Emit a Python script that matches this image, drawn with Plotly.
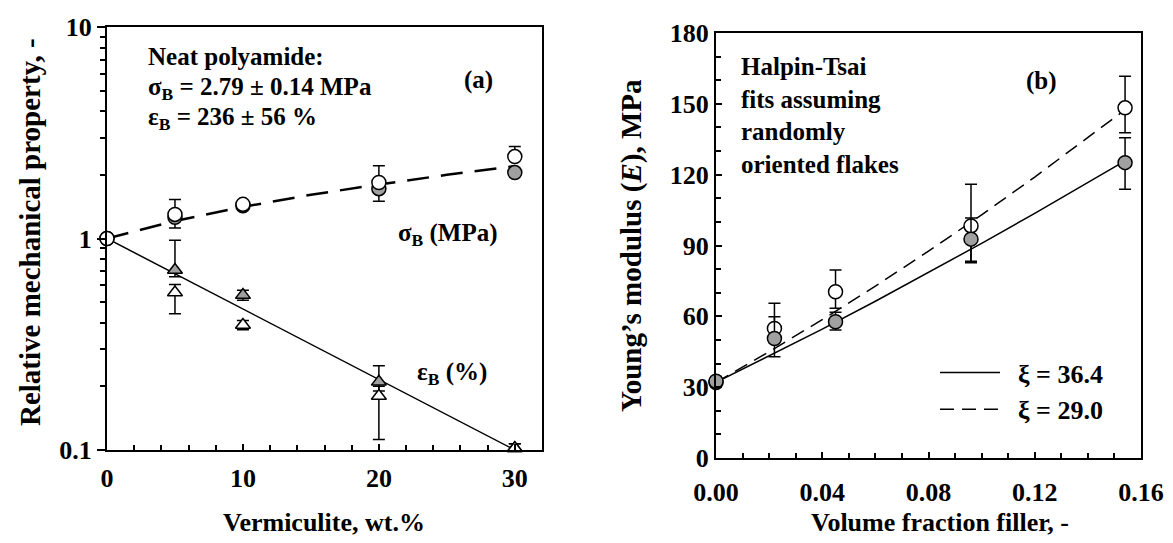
import plotly.graph_objects as go

# ---------------- data: panel (a) ----------------
wt = [0, 5, 10, 20, 30]
sigma_open = [1.0, 1.30, 1.45, 1.84, 2.44]
sigma_open_plus = [0.0, 0.23, 0.03, 0.37, 0.28]
sigma_open_minus = [0.0, 0.05, 0.03, 0.05, 0.05]
sigma_gray = [1.0, 1.26, 1.43, 1.72, 2.05]
sigma_gray_plus = [0.0, 0.10, 0.03, 0.10, 0.05]
sigma_gray_minus = [0.0, 0.14, 0.03, 0.22, 0.05]

wt_eps = [5, 10, 20, 30]
eps_gray = [0.71, 0.54, 0.21, 0.102]
eps_gray_plus = [0.27, 0.03, 0.04, 0.005]
eps_gray_minus = [0.05, 0.03, 0.02, 0.005]
eps_open = [0.556, 0.39, 0.18, 0.102]
eps_open_plus = [0.05, 0.02, 0.02, 0.005]
eps_open_minus = [0.115, 0.02, 0.068, 0.005]

sigma_fit_x = [0, 5, 10, 15, 20, 25, 30]
sigma_fit_y = [1.0, 1.21, 1.41, 1.61, 1.80, 2.00, 2.20]
eps_fit_x = [0, 30]
eps_fit_y = [1.0, 0.1]

# ---------------- data: panel (b) ----------------
vf = [0, 0.022, 0.045, 0.096, 0.154]
E_open = [32, 54.9, 70.4, 98.3, 148.3]
E_open_plus = [2, 10.6, 9.2, 17.6, 13.4]
E_open_minus = [2, 6, 7, 15, 10.6]
E_gray = [32.5, 50.6, 57.7, 92.7, 125.1]
E_gray_plus = [2, 9.2, 4, 9, 10.5]
E_gray_minus = [2, 7.7, 3.5, 10, 11.3]

fit_x = [0, 0.02, 0.04, 0.06, 0.08, 0.10, 0.12, 0.14, 0.154]
fit_364 = [32, 43.2, 54.6, 66.4, 78.5, 90.9, 103.6, 116.6, 125.8]
fit_290 = [32, 45.0, 58.6, 72.8, 87.6, 103.0, 119.0, 135.6, 147.5]

GRAY = "#a0a0a0"
FONT = "Liberation Serif"
W, H = 1173, 543


def tf(size=26):
    return dict(family=FONT, size=size, color="black", weight="bold")


def err(plus, minus):
    return dict(type="data", symmetric=False, array=plus, arrayminus=minus,
                color="black", thickness=1.5, width=6)


fig = go.Figure()

# panel (a) lines
fig.add_trace(go.Scatter(x=sigma_fit_x, y=sigma_fit_y, mode="lines", xaxis="x", yaxis="y",
                         line=dict(color="black", width=2.5, dash="22px,12px"), showlegend=False))
fig.add_trace(go.Scatter(x=eps_fit_x, y=eps_fit_y, mode="lines", xaxis="x", yaxis="y",
                         line=dict(color="black", width=1.5), showlegend=False))
# panel (a) markers
fig.add_trace(go.Scatter(x=wt_eps, y=eps_gray, mode="markers", xaxis="x", yaxis="y",
                         error_y=err(eps_gray_plus, eps_gray_minus), cliponaxis=False,
                         marker=dict(symbol="triangle-up", size=13, color=GRAY,
                                     line=dict(color="black", width=1.5)), showlegend=False))
fig.add_trace(go.Scatter(x=wt_eps, y=eps_open, mode="markers", xaxis="x", yaxis="y",
                         error_y=err(eps_open_plus, eps_open_minus), cliponaxis=False,
                         marker=dict(symbol="triangle-up", size=13, color="white",
                                     line=dict(color="black", width=1.5)), showlegend=False))
fig.add_trace(go.Scatter(x=wt, y=sigma_gray, mode="markers", xaxis="x", yaxis="y",
                         error_y=err(sigma_gray_plus, sigma_gray_minus), cliponaxis=False,
                         marker=dict(symbol="circle", size=14, color=GRAY,
                                     line=dict(color="black", width=1.5)), showlegend=False))
fig.add_trace(go.Scatter(x=wt, y=sigma_open, mode="markers", xaxis="x", yaxis="y",
                         error_y=err(sigma_open_plus, sigma_open_minus), cliponaxis=False,
                         marker=dict(symbol="circle", size=14, color="white",
                                     line=dict(color="black", width=1.5)), showlegend=False))

# panel (b) lines
fig.add_trace(go.Scatter(x=fit_x, y=fit_364, mode="lines", xaxis="x2", yaxis="y2",
                         line=dict(color="black", width=1.5), name="\u2002ξ = 36.4"))
fig.add_trace(go.Scatter(x=fit_x, y=fit_290, mode="lines", xaxis="x2", yaxis="y2",
                         line=dict(color="black", width=1.5, dash="14px,8px"), name="\u2002ξ = 29.0"))
# panel (b) markers
fig.add_trace(go.Scatter(x=vf, y=E_open, mode="markers", xaxis="x2", yaxis="y2",
                         error_y=err(E_open_plus, E_open_minus), cliponaxis=False,
                         marker=dict(symbol="circle", size=14, color="white",
                                     line=dict(color="black", width=1.5)), showlegend=False))
fig.add_trace(go.Scatter(x=vf, y=E_gray, mode="markers", xaxis="x2", yaxis="y2",
                         error_y=err(E_gray_plus, E_gray_minus), cliponaxis=False,
                         marker=dict(symbol="circle", size=14, color=GRAY,
                                     line=dict(color="black", width=1.5)), showlegend=False))

axis_common = dict(showline=True, linewidth=2, linecolor="black", mirror=True,
                   showgrid=False, zeroline=False, tickfont=tf(26), tickwidth=1.5,
                   tickcolor="black", automargin=False)

ann = []
# panel (a) texts
ann.append(dict(x=2.85, y=0.859, xref="x", yref="y", text="Neat polyamide:",
                showarrow=False, xanchor="left", yanchor="middle", font=tf(25)))
ann.append(dict(x=2.85, y=0.71, xref="x", yref="y", text="σ<sub>B</sub> = 2.79 ± 0.14 MPa",
                showarrow=False, xanchor="left", yanchor="middle", font=tf(25)))
ann.append(dict(x=2.85, y=0.569, xref="x", yref="y", text="ε<sub>B</sub> = 236 ± 56 %",
                showarrow=False, xanchor="left", yanchor="middle", font=tf(25)))
ann.append(dict(x=27.3, y=0.749, xref="x", yref="y", text="(a)",
                showarrow=False, xanchor="center", yanchor="middle", font=tf(25)))
ann.append(dict(x=25.1, y=0.02, xref="x", yref="y", text="σ<sub>B</sub> (MPa)",
                showarrow=False, xanchor="center", yanchor="middle", font=tf(25)))
ann.append(dict(x=25.4, y=-0.636, xref="x", yref="y", text="ε<sub>B</sub> (%)",
                showarrow=False, xanchor="center", yanchor="middle", font=tf(25)))
# panel (b) texts
ann.append(dict(x=0.0085, y=145.2, xref="x2", yref="y2",
                text="Halpin-Tsai<br>fits assuming<br>randomly<br>oriented flakes",
                showarrow=False, xanchor="left", yanchor="middle", align="left", font=tf(25)))
ann.append(dict(x=0.1226, y=159.6, xref="x2", yref="y2", text="(b)",
                showarrow=False, xanchor="center", yanchor="middle", font=tf(25)))
# axis titles
ann.append(dict(x=324 / W, y=1 - 522 / H, xref="paper", yref="paper", text="Vermiculite, wt.%",
                showarrow=False, xanchor="center", yanchor="middle", font=tf(26)))
ann.append(dict(x=30 / W, y=1 - 232 / H, xref="paper", yref="paper",
                text="Relative mechanical property, -", textangle=-90,
                showarrow=False, xanchor="center", yanchor="middle", font=tf(29)))
ann.append(dict(x=940 / W, y=1 - 522 / H, xref="paper", yref="paper",
                text="Volume fraction filler, -",
                showarrow=False, xanchor="center", yanchor="middle", font=tf(26)))
ann.append(dict(x=632 / W, y=1 - 246 / H, xref="paper", yref="paper",
                text="Young’s modulus (<i>E</i>), MPa", textangle=-90,
                showarrow=False, xanchor="center", yanchor="middle", font=tf(29)))

fig.update_layout(
    template="none",
    width=W, height=H, margin=dict(l=0, r=0, t=0, b=0, pad=0, autoexpand=False),
    paper_bgcolor="white", plot_bgcolor="white",
    xaxis=dict(domain=[107 / W, 542 / W], range=[0, 32], anchor="y",
               tick0=0, dtick=10, ticks="inside", ticklen=6, ticklabelstandoff=4,
               minor=dict(dtick=2, ticks="inside", ticklen=5, tickwidth=1.5, tickcolor="black"),
               **axis_common),
    yaxis=dict(domain=[1 - 450 / H, 1 - 27 / H], type="log", range=[-1, 1], anchor="x",
               dtick=1, ticks="outside", ticklen=8,
               minor=dict(dtick="D1", ticks="outside", ticklen=5, tickwidth=1.5, tickcolor="black"),
               **axis_common),
    xaxis2=dict(domain=[716 / W, 1141 / W], range=[0, 0.16], anchor="y2",
                tick0=0, dtick=0.04, tickformat=".2f", ticks="inside", ticklen=6,
                ticklabelstandoff=10,
                minor=dict(dtick=0.01, ticks="inside", ticklen=5, tickwidth=1.5, tickcolor="black"),
                **axis_common),
    yaxis2=dict(domain=[1 - 458 / H, 1 - 33 / H], range=[0, 180], anchor="x2",
                tick0=0, dtick=30, ticks="inside", ticklen=6,
                minor=dict(dtick=10, ticks="inside", ticklen=5, tickwidth=1.5, tickcolor="black"),
                **axis_common),
    legend=dict(x=935 / W, y=1 - 349 / H, xanchor="left", yanchor="top",
                bgcolor="rgba(0,0,0,0)", font=tf(26), itemwidth=60, tracegroupgap=0),
    annotations=ann,
)

fig.write_html("out.html")
